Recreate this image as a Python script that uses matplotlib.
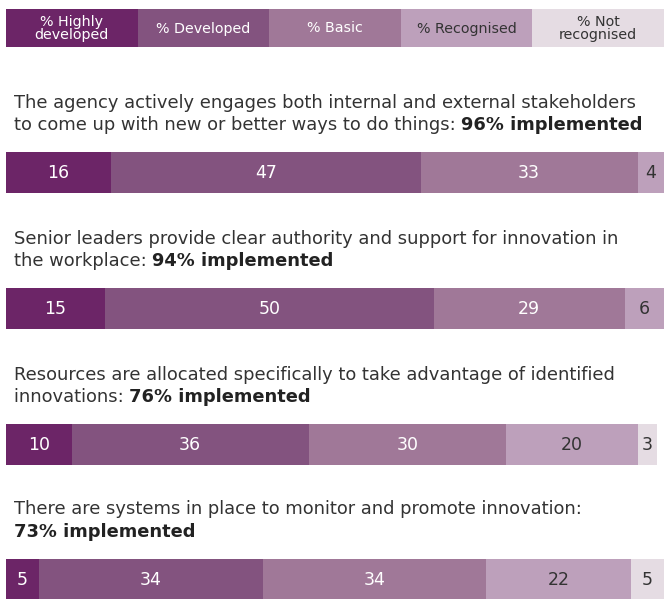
import matplotlib
matplotlib.use("Agg")
import matplotlib.pyplot as plt

plt.rcParams["font.family"] = ["DejaVu Sans"]

# Categories and colours
categories = ["% Highly\ndeveloped", "% Developed", "% Basic", "% Recognised", "% Not\nrecognised"]
colors = ["#6c2567", "#83537f", "#a07898", "#bda0bb", "#e5dce3"]
label_colors = ["white", "white", "white", "#333333", "#333333"]

# Questions (normal text lines, bold suffix, bold on its own line?)
questions = [
    (["The agency actively engages both internal and external stakeholders",
      "to come up with new or better ways to do things: "], "96% implemented", False),
    (["Senior leaders provide clear authority and support for innovation in",
      "the workplace: "], "94% implemented", False),
    (["Resources are allocated specifically to take advantage of identified",
      "innovations: "], "76% implemented", False),
    (["There are systems in place to monitor and promote innovation:"], "73% implemented", True),
]

# Percentages per category (highly developed, developed, basic, recognised, not recognised)
highly = [16, 15, 10, 5]
developed = [47, 50, 36, 34]
basic = [33, 29, 30, 34]
recognised = [4, 6, 20, 22]
not_recognised = [0, 0, 3, 5]

series = [highly, developed, basic, recognised, not_recognised]

W, H = 664, 599
fig = plt.figure(figsize=(W / 100, H / 100), dpi=100)
ax = fig.add_axes([6 / W, 0, (W - 6) / W, 1])
ax.set_xlim(0, 100)
ax.set_ylim(H, 0)
ax.axis("off")

# Legend strip
leg_w = 100 / len(categories)
for i, (cat, c, lc) in enumerate(zip(categories, colors, label_colors)):
    ax.barh(28, leg_w, left=i * leg_w, height=38, color=c, linewidth=0)
    ax.text(i * leg_w + leg_w / 2, 28.5, cat, ha="center", va="center", color=lc,
            fontsize=10.3, linespacing=0.9)

renderer = fig.canvas.get_renderer()
bar_tops = [152, 288, 424, 559]
line_gap = 22.5
tx = 8 / 6.58
qsize = 12.9

for q, (lines, bold, own_line) in enumerate(questions):
    top = bar_tops[q]
    n_lines = len(lines) + (1 if own_line else 0)
    base0 = top - 22 - line_gap * (n_lines - 1)
    last = None
    for j, line in enumerate(lines):
        last = ax.text(tx, base0 + j * line_gap, line, ha="left", va="baseline",
                       fontsize=qsize, color="#333333")
    if own_line:
        ax.text(tx, base0 + len(lines) * line_gap, bold, ha="left", va="baseline",
                fontsize=qsize, color="#222222", fontweight="bold")
    else:
        bb = last.get_window_extent(renderer)
        xd, _ = ax.transData.inverted().transform((bb.x1, bb.y0))
        ax.text(xd, base0 + (len(lines) - 1) * line_gap, bold, ha="left", va="baseline",
                fontsize=qsize, color="#222222", fontweight="bold")

    # stacked bar
    left = 0
    yc = top + 20.5
    for k, s in enumerate(series):
        v = s[q]
        if v == 0:
            continue
        ax.barh(yc, v, left=left, height=41, color=colors[k], linewidth=0)
        ax.text(left + v / 2, yc + 0.5, str(v), ha="center", va="center",
                color=label_colors[k], fontsize=12.5)
        left += v

fig.savefig("out.png", dpi=100)
